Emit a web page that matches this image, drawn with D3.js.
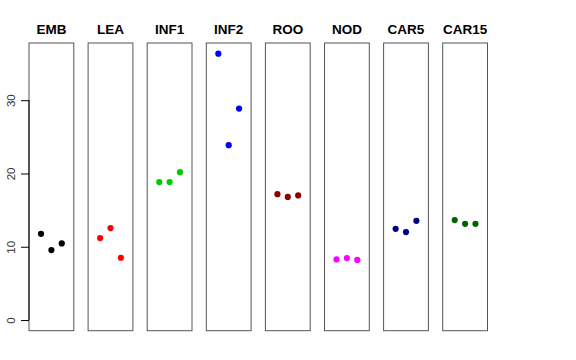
<!DOCTYPE html>
<html><head><meta charset="utf-8">
<script src="https://cdn.jsdelivr.net/npm/d3@7"></script>
<style>body{margin:0;background:#fff}svg{display:block}</style>
</head><body>
<script>
const categories = ["EMB","LEA","INF1","INF2","ROO","NOD","CAR5","CAR15"];
const colors = ["#000000","#ff0000","#00cd00","#0000ff","#8b0000","#ff00ff","#000080","#006400"];
const rep1 = [11.77, 11.18, 18.82, 36.35, 17.18, 8.27, 12.45, 13.64];
const rep2 = [9.55, 12.55, 18.82, 23.86, 16.80, 8.45, 12.00, 13.13];
const rep3 = [10.45, 8.50, 20.18, 28.86, 17.00, 8.20, 13.54, 13.13];
const yTicks = [0, 10, 20, 30];

const W = 576, H = 360;
const svg = d3.select("body").append("svg").attr("width", W).attr("height", H);

const yMax = 36.35;
const y = d3.scaleLinear().domain([-0.04*yMax, 1.04*yMax]).range([330.7, 43]);
const panel = d3.scaleBand().domain(categories).range([29, 29 + 59.1*8]).paddingInner(0);
const pw = 44.8;
const x = d3.scaleLinear().domain([-0.16, 4.16]).range([0, pw]);

categories.forEach((c, i) => {
  const g = svg.append("g").attr("transform", `translate(${panel(c)},0)`);
  g.append("rect").attr("x", 0).attr("y", y.range()[1]).attr("width", pw)
    .attr("height", y.range()[0] - y.range()[1])
    .attr("fill", "none").attr("stroke", "#555").attr("stroke-width", 1);
  g.append("text").attr("x", pw/2).attr("y", 34).attr("text-anchor", "middle")
    .attr("font-family", "Liberation Sans, Arial, sans-serif").attr("font-weight", "bold")
    .attr("font-size", 13.5).text(c);
  const vals = [rep1[i], rep2[i], rep3[i]];
  g.selectAll("circle").data(vals).enter().append("circle")
    .attr("cx", (d, j) => x(j + 1)).attr("cy", d => y(d)).attr("r", 3.1)
    .attr("fill", colors[i]);
});

const axis = d3.axisLeft(y).tickValues(yTicks).tickSize(8).tickPadding(3).tickFormat(d3.format("d"));
const ag = svg.append("g").attr("transform", `translate(${panel(categories[0])},0)`).call(axis);
ag.select(".domain").attr("d", `M0,${y(0)}V${y(30)}`).attr("stroke", "#000");
ag.selectAll(".tick line").attr("stroke", "#000");
ag.selectAll(".tick text")
  .attr("font-family", "Liberation Sans, Arial, sans-serif").attr("font-size", 11.5)
  .attr("fill", "#333")
  .attr("x", 0).attr("y", 0).attr("dy", 0)
  .attr("text-anchor", "middle")
  .attr("transform", "translate(-14,0) rotate(-90)");
</script>
</body></html>
